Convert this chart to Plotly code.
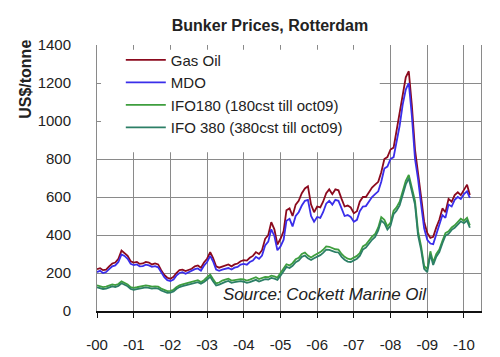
import pandas as pd
import plotly.graph_objects as go

# Monthly values, Jan 2000 .. Mar 2010 (US$/tonne)
gas_oil = [
    220, 225, 215, 218, 235, 250, 255, 275, 318, 305, 290, 262,
    255, 258, 248, 250, 258, 255, 245, 250, 245, 215, 190, 175,
    170, 180, 200, 215, 218, 210, 218, 222, 235, 240, 228, 255,
    275, 310, 280, 235, 228, 235, 240, 245, 235, 245, 250, 262,
    268, 265, 280, 290, 310, 300, 320, 380, 400, 468, 430, 350,
    380, 420, 530, 540, 500, 560, 580, 620, 645, 656, 560, 520,
    550, 545, 575, 620, 640, 615, 640, 635, 590, 550, 555, 545,
    515, 525, 575, 600, 600, 625, 650, 665, 680, 730, 800, 810,
    850, 860, 950, 1040, 1150, 1230, 1262, 1080, 850, 740, 600, 470,
    410, 385, 390, 440, 480, 540, 520, 590, 575, 610, 625, 610,
    640, 665, 610,
]
mdo = [
    205, 212, 200, 205, 220, 235, 240, 258, 298, 290, 275, 248,
    242, 245, 235, 236, 244, 240, 232, 236, 230, 202, 178, 162,
    158, 166, 186, 200, 204, 196, 204, 208, 220, 224, 212, 238,
    258, 290, 262, 218, 212, 218, 222, 226, 218, 228, 232, 244,
    248, 244, 258, 266, 285, 275, 292, 345, 365, 430, 395, 320,
    340, 375, 475, 485, 445, 500, 520, 555, 580, 585, 500, 470,
    495, 490, 520, 565, 580, 560, 585, 580, 540, 500, 505, 495,
    470, 480, 525, 550, 552, 575, 600, 615, 630, 680, 750, 760,
    800, 810, 890, 975, 1085, 1165, 1200, 1025, 800, 695, 560, 435,
    375, 355, 352, 400, 445, 505, 490, 560, 550, 585, 600, 590,
    615, 630, 595,
]
ifo180 = [
    135, 130, 126, 128, 135, 140, 136, 142, 156, 150, 140, 126,
    122, 125, 128, 130, 135, 132, 128, 130, 128, 118, 110, 105,
    106, 112, 125, 135, 140, 145, 150, 155, 160, 162, 152, 162,
    178, 192, 168, 145, 150, 160, 165, 170, 160, 163, 166, 168,
    166, 160, 165, 172, 178, 168, 172, 180, 178, 186, 182, 176,
    200, 225, 246, 240, 252, 272, 280, 300, 308, 292, 282, 292,
    300, 310, 322, 340, 338, 330, 325, 323, 300, 285, 275, 272,
    280, 290, 305, 340, 350, 372, 391, 405, 440, 494, 480, 445,
    465, 528, 545, 575, 630, 685, 716, 640, 579, 420, 340, 237,
    220, 314, 256, 300, 323, 370, 410, 420, 440, 451, 470, 486,
    475, 490, 451,
]
ifo380 = [
    125, 120, 116, 118, 125, 130, 126, 132, 146, 140, 130, 116,
    112, 115, 118, 120, 124, 122, 118, 120, 118, 108, 100, 96,
    97, 103, 116, 126, 131, 136, 141, 146, 150, 152, 143, 152,
    166, 180, 156, 134, 139, 148, 153, 158, 148, 152, 155, 157,
    154, 148, 152, 158, 164, 155, 160, 168, 166, 174, 170, 164,
    186, 210, 232, 226, 238, 257, 265, 285, 292, 277, 268, 278,
    285, 294, 306, 323, 322, 314, 310, 308, 285, 270, 260, 258,
    265, 275, 290, 323, 334, 356, 375, 390, 424, 476, 462, 428,
    448, 510, 528, 556, 612, 666, 698, 622, 560, 400, 322, 222,
    205, 298, 242, 286, 310, 357, 396, 406, 427, 438, 456, 472,
    462, 476, 438,
]
dates = pd.date_range("2000-01-01", periods=len(gas_oil), freq="MS")

series_names = ["Gas Oil", "MDO", "IFO180 (180cst till oct09)", "IFO 380 (380cst till oct09)"]
series_colors = ["#8B0A1E", "#3A2EEA", "#3E9E3E", "#2C7F66"]
series_values = [gas_oil, mdo, ifo180, ifo380]

FONT = "Arial, Liberation Sans, sans-serif"

fig = go.Figure()
for name, color, vals in zip(series_names, series_colors, series_values):
    fig.add_trace(go.Scatter(
        x=dates, y=vals, mode="lines", name=name,
        line=dict(color=color, width=1.8),
        legendgroup=name,
    ))

fig.update_layout(
    width=500, height=357,
    margin=dict(l=89, r=27, t=37, b=45),
    paper_bgcolor="white", plot_bgcolor="white",
    font=dict(family=FONT, size=15, color="#222222"),
    showlegend=True,
    legend=dict(
        x=0.062, y=1.005, xanchor="left", yanchor="top",
        bgcolor="rgba(0,0,0,0)", borderwidth=0,
        font=dict(family=FONT, size=15, color="#222222"),
        traceorder="normal", itemwidth=40, tracegroupgap=5,
    ),
    title=dict(
        text="<b>Bunker Prices, Rotterdam</b>",
        x=262 / 500, xanchor="center", y=1 - 17 / 357, yanchor="middle",
        font=dict(family=FONT, size=16, color="#222222"),
    ),
    shapes=[dict(
        type="rect", xref="x", yref="y",
        x0="2000-02-10", x1="2007-09-16", y0=835, y1=1375,
        fillcolor="white", line=dict(width=0), layer="between",
    )],
    annotations=[
        dict(text="<b>US$/tonne</b>", xref="paper", yref="paper",
             x=-(89 - 18) / 384, y=(312 - 73) / 275, textangle=-90,
             showarrow=False, xanchor="center", yanchor="middle",
             font=dict(family=FONT, size=16, color="#222222")),
        dict(text="<i>Source: Cockett Marine Oil</i>", xref="paper", yref="paper",
             x=(317 - 89) / 384, y=(312 - 295) / 275, showarrow=False,
             xanchor="center", yanchor="middle",
             font=dict(family=FONT, size=17, color="#222222")),
    ],
)
fig.update_xaxes(
    type="date", range=["2000-01-01", "2010-06-20"],
    tick0="2000-01-01", dtick="M12", tickformat="-%y",
    showgrid=True, gridcolor="#8a8a8a", gridwidth=1,
    showline=True, linecolor="#111111", linewidth=2,
    ticks="outside", ticklen=5, tickcolor="#111111",
    ticklabelstandoff=14,
    tickfont=dict(family=FONT, size=15, color="#222222"),
)
fig.update_yaxes(
    range=[0, 1400], dtick=200,
    showgrid=True, gridcolor="#8a8a8a", gridwidth=1,
    showline=True, linecolor="#8a8a8a", linewidth=1, mirror=True,
    zeroline=False, ticks="",
    ticklabelstandoff=22,
    tickfont=dict(family=FONT, size=15, color="#222222"),
)

fig.write_html("out.html")
